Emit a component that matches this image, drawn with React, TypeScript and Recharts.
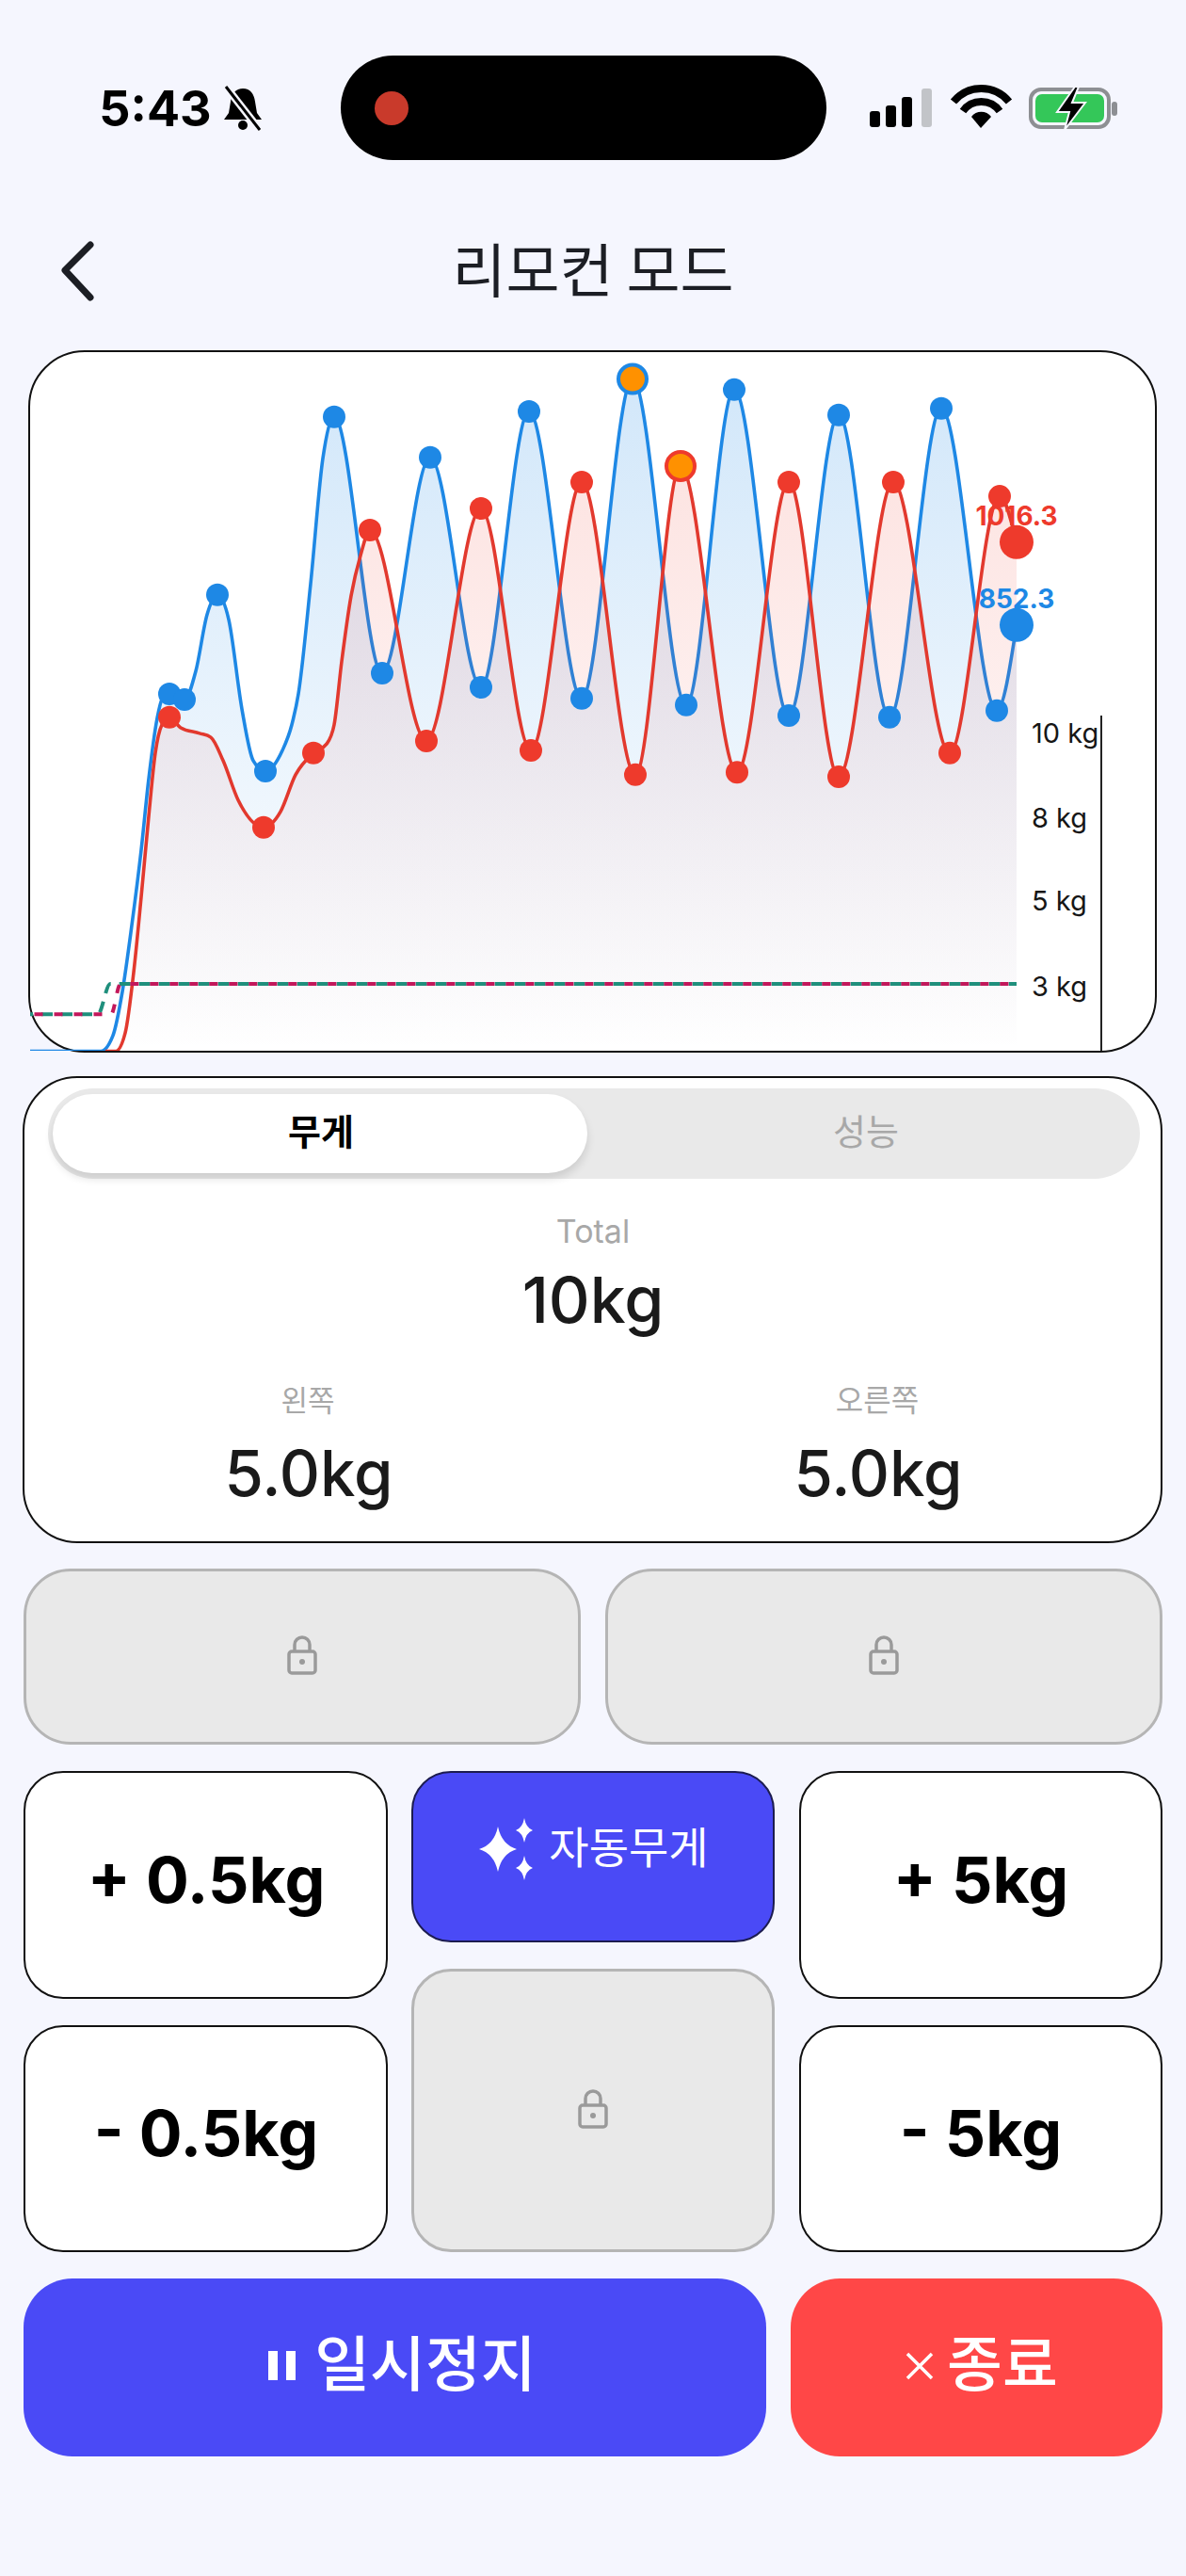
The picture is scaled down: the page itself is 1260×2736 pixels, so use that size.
import React from 'react'
import { Area, ComposedChart, Line, ReferenceLine, XAxis, YAxis } from 'recharts'

// elapsed time / force samples
const blueTime = [0, 7.5, 8.8, 9.8, 10.8, 11.8, 12.6, 13.5, 14.0, 14.8, 16.4, 17.6, 18.8, 19.9, 21.1, 22.5, 23.7, 25.0, 26.8, 27.8, 28.5, 29.8, 31.1, 32.3, 37.4, 42.5, 47.9, 53.0, 58.6, 64.0, 69.7, 74.8, 80.6, 85.9, 91.3, 96.8, 102.7, 104.8]
const blueForce = [9, 9, 40, 127, 258, 407, 548, 668, 705, 716, 705, 761, 873, 912, 863, 686, 584, 563, 604, 655, 716, 934, 1182, 1264, 757, 1184, 729, 1275, 707, 1339, 694, 1318, 673, 1268, 670, 1281, 683, 852.3]
const blueMarks = [14.8, 16.4, 19.9, 25.0, 32.3, 37.4, 42.5, 47.9, 53.0, 58.6, 69.7, 74.8, 80.6, 85.9, 91.3, 96.8, 102.7]
const bluePeak = 64.0

const redTime = [8, 9.1, 10.1, 11.0, 11.8, 12.6, 13.3, 14.0, 14.8, 16.0, 18.0, 19.2, 20.5, 22.1, 24.8, 26.6, 28.2, 30.1, 31.5, 32.3, 33.1, 34.1, 35.1, 36.1, 42.1, 47.9, 53.2, 58.6, 64.3, 69.1, 75.1, 80.6, 85.9, 91.7, 97.7, 103.0, 104.8]
const redForce = [9, 9, 45, 165, 314, 474, 599, 655, 670, 649, 638, 630, 584, 506, 452, 483, 556, 599, 617, 655, 780, 910, 990, 1040, 623, 1083, 604, 1135, 556, 1167, 561, 1135, 552, 1135, 599, 1107, 1016.3]
const redMarks = [14.8, 24.8, 30.1, 36.1, 42.1, 47.9, 53.2, 58.6, 64.3, 75.1, 80.6, 85.9, 91.7, 97.7, 103.0]
const redPeak = 69.1

const greenTargetTime = [0, 7.2, 8.5, 104.8]
const pinkTargetTime = [0, 8.6, 9.6, 104.8]
const targetForce = [82, 82, 142, 142]

const weightTicks = [138, 306, 470, 638]
const weightLabels = ['3 kg', '5 kg', '8 kg', '10 kg']

const BLUE = '#1e88e5'
const RED = '#ee3a2c'
const RED_LINE = '#e2392e'
const ORANGE = '#ff9100'
const INDIGO = '#4a4af6'
const KR = '"Noto Sans CJK KR", sans-serif'
const LATIN = 'Inter, "Noto Sans CJK KR", sans-serif'

const zip = (t: number[], v: number[]) => t.map((time, i) => ({ time, value: v[i] }))
const blueRows = zip(blueTime, blueForce)
const redRows = zip(redTime, redForce)
const greenRows = zip(greenTargetTime, targetForce)
const pinkRows = zip(pinkTargetTime, targetForce)

const makeDot = (color: string, marks: number[], peak: number, labelDy: number) => (p: any) => {
  const key = `${color}-${p.index}`
  const t = p.payload.time
  if (t === 104.8) {
    return (
      <g key={key}>
        <circle cx={p.cx} cy={p.cy} r={18} fill={color} />
        <text x={p.cx} y={p.cy + labelDy} textAnchor="middle" fontFamily="Inter" fontWeight={700} fontSize={28} fill={color}>
          {p.payload.value}
        </text>
      </g>
    )
  }
  if (t === peak) return <circle key={key} cx={p.cx} cy={p.cy} r={15} fill={ORANGE} stroke={color} strokeWidth={4} />
  if (marks.includes(t)) return <circle key={key} cx={p.cx} cy={p.cy} r={12} fill={color} />
  return <g key={key} />
}

function ForceChart() {
  return (
    <div style={{ position: 'absolute', left: 32, top: 372, width: 1197, height: 744, overflow: 'hidden' }}>
      <ComposedChart width={1197} height={745} margin={{ top: 0, right: 0, bottom: 0, left: 0 }} style={{ overflow: 'visible' }}>
        <defs>
          <linearGradient id="blueFill" x1="0" y1="0" x2="0" y2="1">
            <stop offset="0%" stopColor={BLUE} stopOpacity={0.2} />
            <stop offset="100%" stopColor={BLUE} stopOpacity={0} />
          </linearGradient>
          <linearGradient id="redFill" x1="0" y1="0" x2="0" y2="1">
            <stop offset="0%" stopColor={RED} stopOpacity={0.14} />
            <stop offset="100%" stopColor={RED} stopOpacity={0} />
          </linearGradient>
        </defs>
        <XAxis type="number" dataKey="time" domain={[0, 104.8]} hide />
        <YAxis
          orientation="right"
          width={149}
          domain={[8, 1396]}
          ticks={weightTicks}
          interval={0}
          axisLine={false}
          tickLine={false}
          tickMargin={10}
          tickFormatter={(v: number) => weightLabels[weightTicks.indexOf(v)]}
          tick={{ fontSize: 29, fontFamily: 'Inter', fill: '#161616', textAnchor: 'start' }}
        />
        <ReferenceLine
          ifOverflow="visible"
          segment={[{ x: 113.8, y: 8 }, { x: 113.8, y: 673 }]}
          stroke="#222"
          strokeWidth={2}
        />
        <Area data={blueRows} dataKey="value" type="monotone" baseValue={8} stroke={BLUE} strokeWidth={3.6} fill="url(#blueFill)" fillOpacity={1} dot={makeDot(BLUE, blueMarks, bluePeak, -18)} activeDot={false} isAnimationActive={false} />
        <Area data={redRows} dataKey="value" type="monotone" baseValue={8} stroke={RED_LINE} strokeWidth={3.6} fill="url(#redFill)" fillOpacity={1} dot={makeDot(RED, redMarks, redPeak, -18)} activeDot={false} isAnimationActive={false} />
        <Line data={greenRows} dataKey="value" type="monotone" stroke="#1f8f7c" strokeWidth={4} strokeDasharray="12 9" strokeDashoffset={9} dot={false} activeDot={false} isAnimationActive={false} />
        <Line data={pinkRows} dataKey="value" type="monotone" stroke="#c2185b" strokeWidth={4} strokeDasharray="9 12" strokeDashoffset={16.5} dot={false} activeDot={false} isAnimationActive={false} />
      </ComposedChart>
    </div>
  )
}

const Box = ({ x, y, x2, y2, r, bg, border }: any) => (
  <div style={{ position: 'absolute', left: x, top: y, width: x2 - x, height: y2 - y, borderRadius: r, background: bg, border, boxSizing: 'border-box' }} />
)

const Txt = ({ cx, cy, size, weight = 400, color = '#1a1a1a', font = KR, children }: any) => (
  <div style={{ position: 'absolute', left: cx, top: cy, transform: 'translate(-50%,-50%)', fontFamily: font, fontSize: size, fontWeight: weight, color, lineHeight: 1, whiteSpace: 'nowrap' }}>
    {children}
  </div>
)

const Lock = ({ cx, cy }: { cx: number; cy: number }) => (
  <svg style={{ position: 'absolute', left: cx - 17, top: cy - 22 }} width={34} height={44} viewBox="0 0 34 44" fill="none" stroke="#9a9a9a" strokeWidth={3.5}>
    <path d="M9 18V11a8 8 0 0 1 16 0v7" />
    <rect x={3} y={18} width={28} height={23} rx={3} />
    <circle cx={17} cy={29} r={3} fill="#9a9a9a" stroke="none" />
  </svg>
)

const star = (cx: number, cy: number, w: number, h: number) =>
  `M${cx} ${cy - h}Q${cx + w * 0.2} ${cy - h * 0.2} ${cx + w} ${cy}Q${cx + w * 0.2} ${cy + h * 0.2} ${cx} ${cy + h}Q${cx - w * 0.2} ${cy + h * 0.2} ${cx - w} ${cy}Q${cx - w * 0.2} ${cy - h * 0.2} ${cx} ${cy - h}Z`

function StatusBar() {
  return (
    <>
      <Txt cx={165} cy={116} size={52} weight={700} color="#000" font={LATIN}>5:43</Txt>
      <svg style={{ position: 'absolute', left: 234, top: 90 }} width={48} height={50} viewBox="0 0 48 50">
        <path d="M24 4c8 0 12 6 13 14l2 12 5 7H4l5-7 2-12C12 10 16 4 24 4Z" fill="#000" />
        <circle cx={24} cy={43} r={5} fill="#000" />
        <path d="M6 2 42 48" stroke="#f5f6fe" strokeWidth={8} />
        <path d="M6 2 42 48" stroke="#000" strokeWidth={3} />
      </svg>
      <Box x={362} y={59} x2={878} y2={170} r={56} bg="#000" />
      <div style={{ position: 'absolute', left: 398, top: 97, width: 36, height: 36, borderRadius: 18, background: '#c93a2b' }} />
      <svg style={{ position: 'absolute', left: 920, top: 88 }} width={270} height={52} viewBox="0 0 270 52">
        <rect x={4} y={30} width={11} height={17} rx={3} fill="#000" />
        <rect x={21} y={24} width={11} height={23} rx={3} fill="#000" />
        <rect x={38} y={15} width={11} height={32} rx={3} fill="#000" />
        <rect x={59} y={6} width={11} height={41} rx={3} fill="#c2c4c8" />
        <path d="M93 20a38 38 0 0 1 59 0" fill="none" stroke="#000" strokeWidth={8} />
        <path d="M103 30a24 24 0 0 1 39 0" fill="none" stroke="#000" strokeWidth={8} />
        <path d="M122 48 112 36a13 13 0 0 1 21 0Z" fill="#000" />
        <rect x={175} y={7} width={83} height={40} rx={11} fill="none" stroke="#8d8f93" strokeWidth={4} />
        <rect x={180} y={12} width={73} height={30} rx={7} fill="#34c759" />
        <rect x={261} y={20} width={6} height={15} rx={3} fill="#8d8f93" />
        <path d="M222 4 203 31h13l-5 19 22-29h-14l7-17Z" fill="#000" stroke="#f5f6fe" strokeWidth={2} />
      </svg>
    </>
  )
}

export default function App() {
  return (
    <div style={{ position: 'absolute', left: 0, top: 0, width: 1260, height: 2736, background: '#f5f6fe', overflow: 'hidden' }}>
      <StatusBar />
      <svg style={{ position: 'absolute', left: 60, top: 254 }} width={46} height={68} viewBox="0 0 46 68" fill="none" stroke="#1c1e24" strokeWidth={7} strokeLinecap="round" strokeLinejoin="round">
        <path d="M36 6 9 33l27 29" />
      </svg>
      <Txt cx={630} cy={284} size={62} color="#1c1e24">리모컨 모드</Txt>

      <Box x={30} y={372} x2={1229} y2={1118} r={60} bg="#fff" border="2px solid #111" />
      <ForceChart />

      <Box x={24} y={1143} x2={1235} y2={1639} r={58} bg="#fff" border="2px solid #111" />
      <Box x={51} y={1156} x2={1211} y2={1252} r={48} bg="#e9e9e9" />
      <div style={{ position: 'absolute', left: 56, top: 1162, width: 568, height: 84, borderRadius: 42, background: '#fff', boxShadow: '0 6px 10px rgba(0,0,0,0.12)' }} />
      <Txt cx={341} cy={1200} size={38} weight={700} color="#000">무게</Txt>
      <Txt cx={920} cy={1200} size={38} color="#a8a8a8">성능</Txt>
      <Txt cx={630} cy={1308} size={34} color="#a8a8a8" font={LATIN}>Total</Txt>
      <Txt cx={630} cy={1380} size={68} weight={500} font={LATIN}>10kg</Txt>
      <Txt cx={327} cy={1485} size={31} color="#a8a8a8">왼쪽</Txt>
      <Txt cx={932} cy={1485} size={32} color="#a8a8a8">오른쪽</Txt>
      <Txt cx={328} cy={1564} size={67} weight={500} font={LATIN}>5.0kg</Txt>
      <Txt cx={933} cy={1564} size={67} weight={500} font={LATIN}>5.0kg</Txt>

      <Box x={25} y={1666} x2={617} y2={1853} r={50} bg="#e9e9e9" border="3px solid #b5b5b5" />
      <Box x={643} y={1666} x2={1235} y2={1853} r={50} bg="#e9e9e9" border="3px solid #b5b5b5" />
      <Lock cx={321} cy={1758} />
      <Lock cx={939} cy={1758} />

      <Box x={25} y={1881} x2={412} y2={2123} r={42} bg="#fff" border="2px solid #111" />
      <Box x={849} y={1881} x2={1235} y2={2123} r={42} bg="#fff" border="2px solid #111" />
      <Box x={25} y={2151} x2={412} y2={2392} r={42} bg="#fff" border="2px solid #111" />
      <Box x={849} y={2151} x2={1235} y2={2392} r={42} bg="#fff" border="2px solid #111" />
      <Box x={437} y={1881} x2={823} y2={2063} r={42} bg={INDIGO} border="2px solid #1c1c50" />
      <Box x={437} y={2091} x2={823} y2={2392} r={42} bg="#e9e9e9" border="3px solid #b5b5b5" />
      <Lock cx={630} cy={2240} />

      <Txt cx={219} cy={1996} size={68} weight={700} color="#000" font={LATIN}>+ 0.5kg</Txt>
      <Txt cx={1042} cy={1996} size={68} weight={700} color="#000" font={LATIN}>+ 5kg</Txt>
      <Txt cx={219} cy={2265} size={68} weight={700} color="#000" font={LATIN}>- 0.5kg</Txt>
      <Txt cx={1042} cy={2265} size={68} weight={700} color="#000" font={LATIN}>- 5kg</Txt>

      <svg style={{ position: 'absolute', left: 505, top: 1930 }} width={70} height={68} viewBox="0 0 70 68" fill="#fff">
        <path d={star(24, 34, 20, 24)} />
        <path d={star(52, 14, 9, 13)} />
        <path d={star(52, 54, 9, 13)} />
      </svg>
      <Txt cx={668} cy={1959} size={46} color="#fff">자동무게</Txt>

      <Box x={25} y={2420} x2={814} y2={2609} r={52} bg={INDIGO} />
      <Box x={840} y={2420} x2={1235} y2={2609} r={52} bg="#ff4747" />
      <div style={{ position: 'absolute', left: 285, top: 2497, width: 10, height: 31, background: '#fff' }} />
      <div style={{ position: 'absolute', left: 304, top: 2497, width: 10, height: 31, background: '#fff' }} />
      <Txt cx={452} cy={2506} size={64} weight={500} color="#fff">일시정지</Txt>
      <svg style={{ position: 'absolute', left: 961, top: 2497 }} width={32} height={32} viewBox="0 0 32 32" stroke="#fff" strokeWidth={3.5}>
        <path d="M3 3 29 29M29 3 3 29" />
      </svg>
      <Txt cx={1065} cy={2506} size={64} weight={500} color="#fff">종료</Txt>
    </div>
  )
}
